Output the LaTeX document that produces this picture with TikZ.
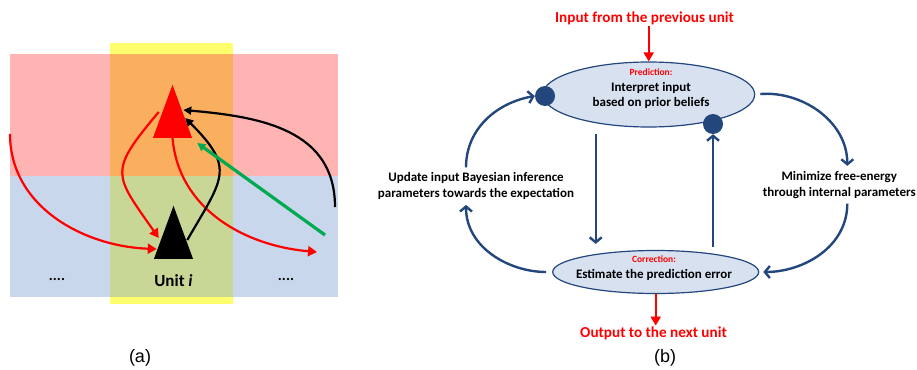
\documentclass[tikz,border=0pt]{standalone}
\usepackage{fontspec}
\setmainfont{Carlito}
\newfontfamily\capfont{Liberation Sans}
\usetikzlibrary{arrows.meta,shapes.geometric}
\definecolor{pinkbg}{RGB}{255,180,180}
\definecolor{bluebg}{RGB}{200,215,235}
\definecolor{yellowbg}{RGB}{255,255,110}
\definecolor{orangebg}{RGB}{250,175,95}
\definecolor{olivebg}{RGB}{200,215,150}
\definecolor{navy}{RGB}{35,70,125}
\definecolor{statefill}{RGB}{215,225,240}
\definecolor{arrowgreen}{RGB}{0,170,80}

\begin{document}
\begin{tikzpicture}[x=1pt,y=1pt,
  state/.style={ellipse,draw=navy,line width=1.2pt,fill=statefill,inner sep=0pt},
  statetext/.style={align=center,inner sep=0pt,font=\bfseries\fontsize{13}{15.5}\selectfont},
  knob/.style={circle,fill=navy,inner sep=0pt,minimum size=20pt},
  loop/.style={navy,line width=2.4pt,-{Straight Barb[length=5pt,width=12pt]}},
  flow/.style={red,line width=2.2pt,-{Triangle[length=9pt,width=10pt]}},
  wire/.style={line width=2.2pt,-{Triangle[length=8pt,width=8pt]}},
  tag/.style={font=\bfseries\fontsize{15.2}{18}\selectfont,text=red,inner sep=1pt},
  note/.style={font=\bfseries\fontsize{13}{16}\selectfont,align=center,inner sep=5pt},
  unit/.style={isosceles triangle,isosceles triangle apex angle=40,isosceles triangle stretches,shape border rotate=90,inner sep=0pt,minimum width=39pt,minimum height=53pt,anchor=lower side}]
\useasboundingbox (0,0) rectangle (917,-369);
% (a)
\fill[pinkbg] (10,-54) rectangle (338,-176);
\fill[bluebg] (10,-176) rectangle (338,-297);
\fill[yellowbg] (110,-43) rectangle (233,-304);
\fill[orangebg] (110,-54) rectangle (233,-176);
\fill[olivebg] (110,-176) rectangle (233,-297);
\node[unit,fill=red] (upper) at (172.5,-138) {};
\node[unit,fill=black] (lower) at (173.5,-259) {};
\node[font=\bfseries\fontsize{17}{20}\selectfont] (name) at (173.5,-281) {Unit \textit{i}};
\node[font=\bfseries\fontsize{15}{18}\selectfont] (dotsl) at (57,-279) {....};
\node[font=\bfseries\fontsize{15}{18}\selectfont] (dotsr) at (286,-279) {....};
\coordinate (inleft) at (10,-134);
\coordinate (inright) at (335,-207);
\coordinate (outright) at (317,-252);
\coordinate (greenin) at (325,-235);
\draw[flow] (inleft) to[out=-90,in=178] ([shift={(3,10)}]lower.left corner);
\draw[flow] ([shift={(6,26)}]upper.left corner) to[out=230,in=125,looseness=1.6] ([shift={(5,21)}]lower.left corner);
\draw[flow] (upper.lower side) to[out=-85,in=175] (outright);
\draw[wire] ([shift={(-6,19)}]lower.right corner) to[out=60,in=-45,looseness=1.5] ([shift={(-7,20)}]upper.right corner);
\draw[wire] (inright) to[out=90,in=-5,looseness=1.1] ([shift={(-9,28)}]upper.right corner);
\draw[wire,arrowgreen,line width=3.2pt] (greenin) -- ([shift={(5,-5)}]upper.right corner);
\node[font=\capfont\fontsize{18}{20}\selectfont] (capa) at (140,-358) {(a)};
% (b)
\node[tag] (input) at (644.5,-18.3) {Input from the previous unit};
\node[state,minimum width=212pt,minimum height=65pt] (pred) at (648.7,-94.5) {};
\node[statetext] (predtext) at (651,-89) {{\color{red}\fontsize{9.5}{11}\selectfont Prediction:}\\Interpret input\\based on prior beliefs};
\node[state,minimum width=206pt,minimum height=43pt] (corr) at (655.7,-272) {};
\node[statetext] (corrtext) at (654,-268) {{\color{red}\fontsize{9.5}{11}\selectfont Correction:}\\Estimate the prediction error};
\node[knob] (dotl) at (545,-96) {};
\node[knob] (dotr) at (713,-124) {};
\node[note] (update) at (476,-186.2) {Update input Bayesian inference\\parameters towards the expectation};
\node[note] (minimize) at (839.3,-184.7) {Minimize free-energy\\through internal parameters};
\node[tag] (output) at (653.5,-333.3) {Output to the next unit};
\node[font=\capfont\fontsize{18}{20}\selectfont] (capb) at (665,-358) {(b)};
\draw[flow] (input.south -| pred.north) -- (pred.north);
\draw[flow] (corr.south) -- (output.north -| corr.south);
\draw[loop] ([xshift=-10pt]update.north) to[out=90,in=190] (dotl.west);
\draw[loop,shorten <=5pt] (pred.east) to[out=5,in=90] ([xshift=8pt]minimize.north);
\draw[loop,shorten <=6pt,shorten >=6pt] (pred.south -| 595.7,0) -- (corr.north -| 595.7,0);
\draw[loop,shorten <=3pt] (corr.north -| dotr) -- (dotr.south);
\draw[loop,shorten <=6pt] (corr.west) to[out=180,in=-90] ([xshift=-10pt]update.south);
\draw[loop,shorten >=4pt] ([xshift=8pt]minimize.south) to[out=-90,in=0] (corr.east);
\end{tikzpicture}
\end{document}
